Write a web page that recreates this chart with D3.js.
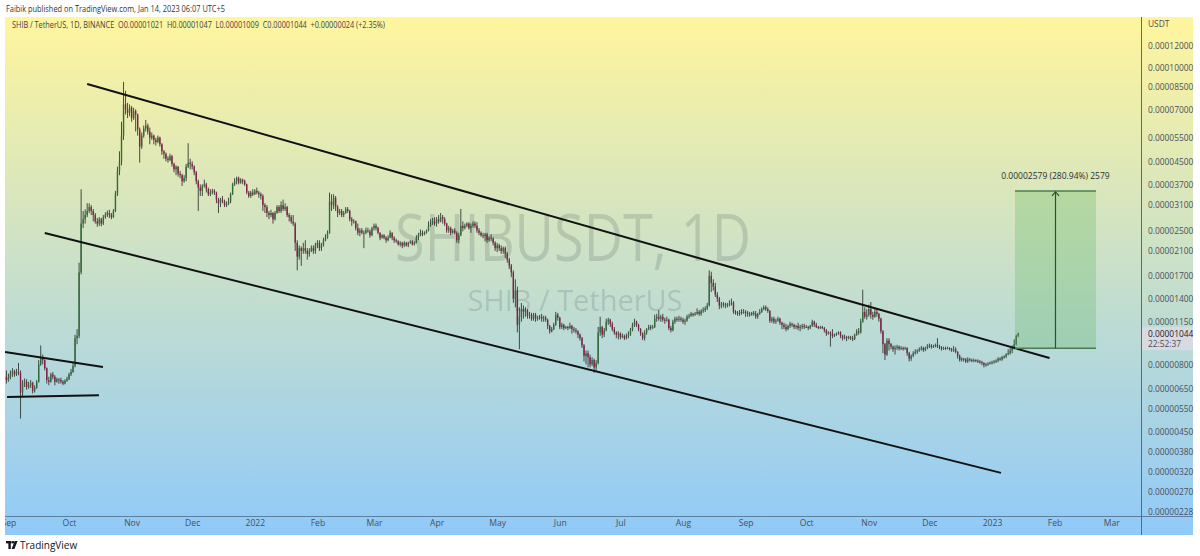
<!DOCTYPE html>
<html>
<head>
<meta charset="utf-8">
<script src="https://cdn.jsdelivr.net/npm/d3@7"></script>
<style>
  html, body { margin: 0; padding: 0; background: #fff; }
  svg { display: block; font-family: "Open Sans", "Noto Sans", sans-serif; }
</style>
</head>
<body>
<svg id="chart" width="1200" height="556"></svg>
<script>
// SHIB/USDT daily candles, prices in units of 0.00000001 USDT
var startDate = "2021-08-31";
var firstOpen = 720;

var closes = [
  700,
  715,740,755,735,750,745,630,680,690,660,670,685,640,655,690,800,850,830,775,700,690,735,720,690,705,700,690,680,695,705,
  735,750,790,1000,1020,1750,2650,2750,2850,2950,3050,2950,2850,2700,2650,2750,2650,2800,2850,2900,2850,2800,2950,3400,4150,4500,5600,7300,7000,6800,7100,
  6500,6900,6700,5900,5100,5600,5950,6100,5800,5500,5600,5400,5300,5500,5200,4900,4800,4600,4550,4700,4400,4200,4300,4050,4000,3800,3900,4300,4450,4400,
  4300,4100,3800,3600,3500,3650,3700,3550,3400,3450,3500,3450,3250,3150,3250,3200,3100,3150,3200,3400,3700,3800,3900,3750,3850,3800,3700,3450,3350,3450,3400,
  3500,3450,3400,3350,3100,3050,2900,2850,2900,2750,2900,3050,2950,3100,3000,3050,2850,2800,2700,2650,2250,2000,2150,2100,2150,2100,2050,2100,2150,2100,2200,
  2250,2150,2200,2300,2350,2450,3200,3100,3300,3050,2900,2950,2850,2900,3000,2950,2750,2700,2700,2550,2450,2500,2450,2450,2500,2480,2400,2550,
  2600,2550,2450,2350,2400,2350,2300,2350,2450,2350,2300,2280,2220,2250,2200,2250,2200,2250,2280,2220,2250,2350,2400,2450,2420,2450,2500,2600,2650,2700,2650,
  2750,2700,2800,2750,2650,2500,2550,2450,2500,2450,2300,2400,2600,2550,2600,2650,2550,2600,2650,2600,2500,2450,2400,2380,2420,2300,2350,2330,2250,2150,
  2200,2150,2100,2150,2050,1950,1850,1750,1400,1500,1120,1200,1280,1250,1270,1210,1220,1180,1220,1180,1190,1200,1180,1190,1170,1110,1060,1080,1120,1220,1190,
  1100,1120,1090,1100,1090,1110,1080,1070,1060,1030,1000,940,860,880,850,800,830,780,810,1050,1100,1030,1070,1150,1170,1130,1080,1050,1030,1040,
  1010,1020,1000,1020,1030,1070,1120,1150,1120,1080,1040,1000,1050,1080,1100,1090,1100,1180,1200,1180,1200,1170,1160,1170,1090,1070,1150,1180,1170,1180,1170,
  1150,1160,1200,1210,1230,1220,1230,1250,1230,1260,1270,1290,1320,1700,1600,1550,1450,1400,1320,1330,1340,1330,1330,1340,1350,1250,1240,1230,1250,1240,1250,
  1240,1230,1220,1240,1230,1200,1230,1250,1280,1300,1280,1260,1160,1180,1150,1160,1180,1140,1120,1100,1080,1110,1130,1120,1100,1110,1090,1100,1110,1100,
  1100,1090,1110,1150,1120,1100,1090,1100,1090,1070,1040,1050,1040,1020,1030,1040,1050,1020,1000,1010,1000,1010,1000,990,1030,1060,1050,1150,1250,1200,1220,
  1280,1220,1200,1250,1230,1180,1060,950,870,980,950,930,910,920,930,915,920,915,920,880,840,860,880,890,900,910,920,905,920,930,
  940,930,935,945,930,925,915,920,915,920,910,905,910,890,860,830,840,835,820,835,830,825,830,825,820,815,810,795,800,805,810,
  815,820,825,840,835,850,855,870,880,900,920,950,1020,1044
];

var highs = [
  760,
  740,760,775,765,770,810,760,700,710,705,690,700,690,670,700,830,940,870,835,780,720,745,750,730,715,712,715,700,705,720,
  745,770,810,1030,1080,1900,3550,2950,2990,3150,3150,3100,3000,2900,2780,2800,2780,2850,2920,2960,2980,2900,3000,3500,4300,4900,6300,8845,8200,7400,7300,
  7200,7100,7000,6750,6000,5750,6100,6400,6200,6000,5750,5650,5500,5600,5550,5250,4950,4850,4700,4800,4750,4450,4350,4320,4150,4050,4000,4400,5250,4600,
  4500,4350,4150,3850,3700,3700,3850,3750,3600,3550,3560,3550,3480,3300,3300,3350,3250,3200,3300,3450,3750,3900,3950,3950,3900,3880,3850,3720,3500,3500,3550,
  3550,3600,3500,3450,3400,3150,3100,2950,2980,2920,2950,3100,3100,3200,3250,3150,3080,2900,2850,2850,2680,2300,2200,2180,2250,2300,2150,2150,2200,2200,2250,
  2300,2300,2250,2350,2420,2500,3450,3400,3400,3350,3100,3000,3000,2950,3050,3050,2980,2800,2750,2720,2650,2550,2550,2500,2560,2560,2520,2580,
  2650,2650,2580,2460,2420,2420,2380,2400,2500,2460,2380,2330,2300,2280,2270,2280,2270,2270,2300,2300,2280,2400,2450,2520,2500,2480,2520,2700,2750,2780,2800,
  2800,2850,2900,2850,2800,2670,2600,2580,2530,2550,2480,2450,3000,2700,2650,2680,2680,2650,2700,2700,2680,2550,2480,2450,2450,2450,2380,2420,2360,2280,
  2250,2230,2200,2180,2180,2080,1980,1880,1780,1650,1550,1300,1350,1320,1300,1280,1250,1240,1240,1240,1210,1220,1230,1210,1210,1180,1120,1100,1140,1250,1240,
  1200,1140,1130,1110,1110,1140,1120,1100,1090,1070,1040,1010,950,900,900,870,850,840,830,1100,1200,1110,1090,1180,1190,1180,1150,1100,1060,1060,
  1050,1040,1030,1040,1060,1090,1140,1180,1160,1130,1090,1050,1070,1090,1120,1120,1120,1220,1230,1270,1220,1230,1190,1200,1180,1110,1170,1200,1200,1210,1200,
  1190,1180,1220,1230,1250,1240,1250,1290,1270,1280,1300,1310,1350,1780,1760,1650,1600,1480,1420,1360,1360,1350,1350,1380,1400,1370,1270,1260,1270,1280,1280,
  1270,1260,1250,1250,1260,1260,1240,1280,1300,1320,1320,1300,1270,1200,1200,1180,1200,1190,1150,1140,1130,1120,1150,1140,1130,1120,1140,1120,1130,1130,
  1120,1110,1120,1170,1160,1140,1110,1110,1110,1100,1080,1060,1060,1080,1040,1050,1060,1060,1030,1030,1020,1020,1020,1020,1040,1080,1090,1180,1510,1300,1280,
  1330,1360,1250,1280,1290,1240,1190,1070,960,1000,1000,960,940,940,945,940,935,930,930,925,890,870,895,910,910,925,935,930,930,950,
  955,950,945,955,1000,945,935,930,930,930,925,920,935,925,895,870,850,845,845,850,845,840,840,835,835,830,825,815,810,815,820,
  825,830,835,850,850,860,865,880,910,920,940,990,1030,1047
];

var lows = [
  680,
  690,705,720,720,725,730,505,610,660,645,650,655,625,630,650,685,790,800,760,680,670,685,705,670,685,678,680,670,675,690,
  700,725,745,780,950,1000,1720,2550,2650,2800,2900,2850,2700,2650,2580,2600,2590,2620,2760,2800,2780,2750,2780,2920,3350,4000,4350,5400,6700,6500,6600,
  6300,6400,5800,5600,4450,5000,5500,5800,5650,5200,5400,5200,5150,5250,5100,4750,4600,4500,4450,4500,4300,4100,4000,3950,3900,3650,3750,3800,4250,4200,
  4200,4000,3700,2950,3350,3350,3600,3450,3350,3350,3400,3380,3150,2900,3050,3150,3050,3050,3100,3150,3380,3650,3700,3700,3720,3700,3650,3400,3300,3300,3350,
  3380,3400,3300,3250,2950,2900,2800,2750,2800,2650,2720,2880,2900,2900,2950,2950,2800,2700,2650,2600,2100,1780,1950,1850,2050,2050,1950,2000,2080,2050,2050,
  2150,2100,2100,2180,2280,2330,2430,2950,3000,2950,2800,2850,2800,2800,2880,2900,2700,2600,2650,2500,2400,2380,2420,2150,2420,2450,2350,2380,
  2500,2500,2420,2300,2330,2320,2250,2280,2340,2300,2250,2250,2200,2180,2150,2170,2180,2170,2230,2200,2200,2240,2300,2380,2380,2400,2430,2480,2580,2620,2600,
  2580,2650,2680,2650,2600,2450,2450,2400,2430,2420,2250,2240,2380,2480,2520,2570,2520,2450,2560,2550,2450,2400,2370,2340,2280,2250,2270,2280,2200,2100,
  2080,2100,2050,2050,1980,1900,1800,1680,1350,1300,1050,910,1150,1180,1200,1180,1180,1160,1160,1150,1160,1170,1150,1150,1150,1080,1040,1050,1070,1110,1160,
  1080,1080,1070,1080,1070,1080,1040,1050,1040,1000,980,920,820,800,780,780,790,745,760,800,1020,1000,1010,1060,1120,1100,1060,1030,1000,990,
  990,1000,985,990,1000,1020,1060,1100,1100,1060,1020,985,980,1030,1070,1070,1080,1090,1150,1160,1150,1150,1130,1150,1070,1050,1060,1130,1150,1150,1150,
  1130,1120,1150,1180,1200,1200,1210,1220,1210,1210,1240,1250,1270,1310,1480,1500,1420,1360,1280,1290,1300,1290,1300,1310,1320,1230,1220,1210,1210,1220,1230,
  1200,1200,1200,1210,1210,1180,1180,1220,1240,1270,1260,1240,1140,1140,1130,1130,1150,1120,1080,1080,1060,1070,1090,1100,1080,1080,1070,1060,1080,1080,
  1090,1070,1080,1100,1100,1090,1080,1080,1080,1050,1020,1030,930,1000,1010,1020,1030,1000,980,990,975,990,985,975,985,1020,1030,1040,1140,1180,1170,
  1200,1180,1170,1190,1200,1150,1040,880,830,860,900,910,890,870,905,900,905,900,905,860,820,825,850,870,875,890,900,890,895,910,
  920,915,920,925,920,910,900,905,905,910,900,890,890,880,840,820,820,820,810,810,820,815,815,815,810,805,795,780,785,790,800,
  800,805,810,815,825,825,840,845,865,870,880,910,940,1009
];

var priceTicks = [12000, 10000, 8500, 7000, 5500, 4500, 3700, 3100, 2500, 2100, 1700, 1400, 1150,
  800, 650, 550, 450, 380, 320, 270, 228];

// drawings: [date, price]
var channelTop = [["2021-10-10T00:00Z", 8690], ["2023-01-29T12:00Z", 845]];
var channelBottom = [["2021-09-19T00:00Z", 2447], ["2023-01-05T11:00Z", 318]];
var rangeTop = [["2021-08-30T08:00Z", 890], ["2021-10-17T20:00Z", 782]];
var rangeBottom = [["2021-08-31T08:00Z", 606], ["2021-10-15T20:00Z", 616]];
var measureDates = ["2023-01-12T09:00Z", "2023-02-21T12:00Z"];
var measurePrices = [918, 3497];
var measureLabel = "0.00002579 (280.94%) 2579";

var lastPrice = 1044;
var lastTimer = "22:52:37";
var headerText = "Faibik published on TradingView.com, Jan 14, 2023 06:07 UTC+5";
var legendText = "SHIB / TetherUS, 1D, BINANCE  O0.00001021  H0.00001047  L0.00001009  C0.00001044  +0.00000024 (+2.35%)";

var svg = d3.select("#chart");
var padL = 5, padR = 1193, padT = 17, padB = 535, axisX = 1141, axisY = 516;

var x = d3.scaleUtc()
  .domain([new Date(Date.UTC(2021, 9, 1)), new Date(Date.UTC(2023, 0, 1))])
  .range([69, 992]);
var y = d3.scaleLog()
  .domain([228, 12000])
  .range([512, 46]);

var defs = svg.append("defs");
var grad = defs.append("linearGradient")
  .attr("id", "bg")
  .attr("gradientUnits", "userSpaceOnUse")
  .attr("x1", 0).attr("y1", padT).attr("x2", 0).attr("y2", padB);
grad.append("stop").attr("offset", 0).attr("stop-color", "#fff59d");
grad.append("stop").attr("offset", 1).attr("stop-color", "#90caf9");

defs.append("clipPath").attr("id", "plot")
  .append("rect").attr("x", padL).attr("y", padT).attr("width", axisX - padL).attr("height", axisY - padT);
defs.append("clipPath").attr("id", "timeclip")
  .append("rect").attr("x", padL).attr("y", axisY).attr("width", axisX - padL).attr("height", padB - axisY);

svg.append("rect")
  .attr("x", padL).attr("y", padT)
  .attr("width", padR - padL).attr("height", padB - padT)
  .attr("fill", "url(#bg)");

// header + legend
svg.append("text")
  .attr("x", 6).attr("y", 12)
  .attr("font-size", 9).attr("fill", "#333")
  .attr("textLength", 219).attr("lengthAdjust", "spacingAndGlyphs")
  .text(headerText);
svg.append("text")
  .attr("x", 12).attr("y", 28)
  .attr("font-size", 8.5).attr("fill", "#3d4250")
  .attr("textLength", 373).attr("lengthAdjust", "spacingAndGlyphs")
  .style("white-space", "pre")
  .text(legendText);

// watermark
var wm = svg.append("g").attr("fill", "rgba(70,85,85,0.2)").attr("text-anchor", "middle");
wm.append("text")
  .attr("x", 573).attr("y", 261)
  .attr("font-size", 66)
  .attr("textLength", 356).attr("lengthAdjust", "spacingAndGlyphs")
  .text("SHIBUSDT, 1D");
wm.append("text")
  .attr("x", 575).attr("y", 311)
  .attr("font-size", 30)
  .attr("textLength", 215).attr("lengthAdjust", "spacingAndGlyphs")
  .text("SHIB / TetherUS");

// candles
var t0 = Date.parse(startDate + "T00:00:00Z");
var candles = closes.map(function(c, i) {
  var o = i === 0 ? firstOpen : closes[i - 1];
  return {
    date: new Date(t0 + i * 864e5),
    o: o, c: c,
    h: Math.max(highs[i], o, c),
    l: Math.min(lows[i], o, c)
  };
});

var plot = svg.append("g").attr("clip-path", "url(#plot)");

plot.append("g")
  .attr("class", "wicks")
  .selectAll("line")
  .data(candles)
  .enter().append("line")
  .attr("x1", function(d) { return x(d.date); })
  .attr("x2", function(d) { return x(d.date); })
  .attr("y1", function(d) { return y(d.h); })
  .attr("y2", function(d) { return y(d.l); })
  .attr("stroke", "#343a36")
  .attr("stroke-width", 0.9);

plot.append("g")
  .attr("class", "bodies")
  .selectAll("rect")
  .data(candles)
  .enter().append("rect")
  .attr("x", function(d) { return x(d.date) - 0.7; })
  .attr("width", 1.4)
  .attr("y", function(d) { return y(Math.max(d.o, d.c)); })
  .attr("height", function(d) { return Math.max(1, y(Math.min(d.o, d.c)) - y(Math.max(d.o, d.c))); })
  .attr("fill", function(d) { return d.c >= d.o ? "#346b3a" : "#8a1e4a"; });

// trend lines
var line = d3.line()
  .x(function(d) { return x(new Date(d[0])); })
  .y(function(d) { return y(d[1]); });

plot.selectAll("path.trend")
  .data([channelTop, channelBottom, rangeTop, rangeBottom])
  .enter().append("path")
  .attr("class", "trend")
  .attr("d", line)
  .attr("fill", "none")
  .attr("stroke", "#111")
  .attr("stroke-width", 2);

// price range measure
var mx0 = x(new Date(measureDates[0])), mx1 = x(new Date(measureDates[1]));
var my0 = y(measurePrices[0]), my1 = y(measurePrices[1]);
var mxc = (mx0 + mx1) / 2;
var measure = plot.append("g");
measure.append("rect")
  .attr("x", mx0).attr("y", my1)
  .attr("width", mx1 - mx0).attr("height", my0 - my1)
  .attr("fill", "rgba(90,180,90,0.28)");
measure.selectAll("line.edge")
  .data([my0, my1])
  .enter().append("line")
  .attr("class", "edge")
  .attr("x1", mx0).attr("x2", mx1)
  .attr("y1", function(d) { return d; }).attr("y2", function(d) { return d; })
  .attr("stroke", "#4b7d50").attr("stroke-width", 1.5);
measure.append("line")
  .attr("x1", mxc).attr("x2", mxc)
  .attr("y1", my0).attr("y2", my1 + 1)
  .attr("stroke", "#2f4f33").attr("stroke-width", 1.2);
measure.append("path")
  .attr("d", "M" + (mxc - 3.5) + "," + (my1 + 5) + "L" + mxc + "," + (my1 + 1) + "L" + (mxc + 3.5) + "," + (my1 + 5))
  .attr("fill", "none").attr("stroke", "#2f4f33").attr("stroke-width", 1.2);
measure.append("text")
  .attr("x", mxc).attr("y", my1 - 12)
  .attr("text-anchor", "middle")
  .attr("font-size", 8.5).attr("fill", "#2a2e33")
  .text(measureLabel);

// axes borders
svg.append("line")
  .attr("x1", padL).attr("x2", padR)
  .attr("y1", axisY + 0.5).attr("y2", axisY + 0.5)
  .attr("stroke", "#5d7f9c").attr("stroke-width", 1);
svg.append("line")
  .attr("x1", axisX + 0.5).attr("x2", axisX + 0.5)
  .attr("y1", padT).attr("y2", padB)
  .attr("stroke", "#5f6b70").attr("stroke-width", 1);

// price axis
var yAxis = d3.axisRight(y)
  .tickValues(priceTicks)
  .tickSize(0)
  .tickPadding(7)
  .tickFormat(function(d) { return d3.format(".8f")(d * 1e-8); });
var yg = svg.append("g")
  .attr("transform", "translate(" + axisX + ",0)")
  .call(yAxis);
yg.select(".domain").remove();
yg.selectAll("text")
  .attr("font-size", 8.4)
  .attr("font-family", "\"Open Sans\", \"Noto Sans\", sans-serif")
  .attr("fill", "#4a4f5a");

svg.append("text")
  .attr("x", axisX + 7).attr("y", 27)
  .attr("font-size", 8.4).attr("fill", "#4a4f5a")
  .text("USDT");

// last price badge
svg.append("rect")
  .attr("x", axisX + 1).attr("y", y(lastPrice) - 6)
  .attr("width", padR - axisX - 1).attr("height", 23)
  .attr("fill", "#d9d9e2");
svg.append("text")
  .attr("x", axisX + 7).attr("y", y(lastPrice) + 4)
  .attr("font-size", 8.4).attr("fill", "#1e2126")
  .text(d3.format(".8f")(lastPrice * 1e-8));
svg.append("text")
  .attr("x", axisX + 7).attr("y", y(lastPrice) + 14)
  .attr("font-size", 8.4).attr("fill", "#4a4f5a")
  .text(lastTimer);

// time axis
var months = d3.utcMonth.range(new Date(Date.UTC(2021, 8, 1)), new Date(Date.UTC(2023, 2, 2)));
var xAxis = d3.axisBottom(x)
  .tickValues(months)
  .tickSize(0)
  .tickPadding(4)
  .tickFormat(function(d) {
    return d.getUTCMonth() === 0 ? d3.utcFormat("%Y")(d) : d3.utcFormat("%b")(d);
  });
var xg = svg.append("g")
  .attr("clip-path", "url(#timeclip)")
  .append("g")
  .attr("transform", "translate(0," + axisY + ")")
  .call(xAxis);
xg.select(".domain").remove();
xg.selectAll("text")
  .attr("font-size", 8.6)
  .attr("font-family", "\"Open Sans\", \"Noto Sans\", sans-serif")
  .attr("fill", "#4a4f5a");

// TradingView footer
var logo = svg.append("g").attr("fill", "#131722");
logo.append("rect").attr("x", 6).attr("y", 541).attr("width", 5.5).attr("height", 2.4);
logo.append("rect").attr("x", 8.4).attr("y", 541).attr("width", 2.4).attr("height", 8);
logo.append("circle").attr("cx", 13).attr("cy", 542.3).attr("r", 1.3);
logo.append("path").attr("d", "M14.6,541 L17.6,541 L14.4,549 L11.6,549 Z");
svg.append("text")
  .attr("x", 20).attr("y", 549)
  .attr("font-size", 10).attr("fill", "#131722")
  .text("TradingView");
</script>
</body>
</html>
